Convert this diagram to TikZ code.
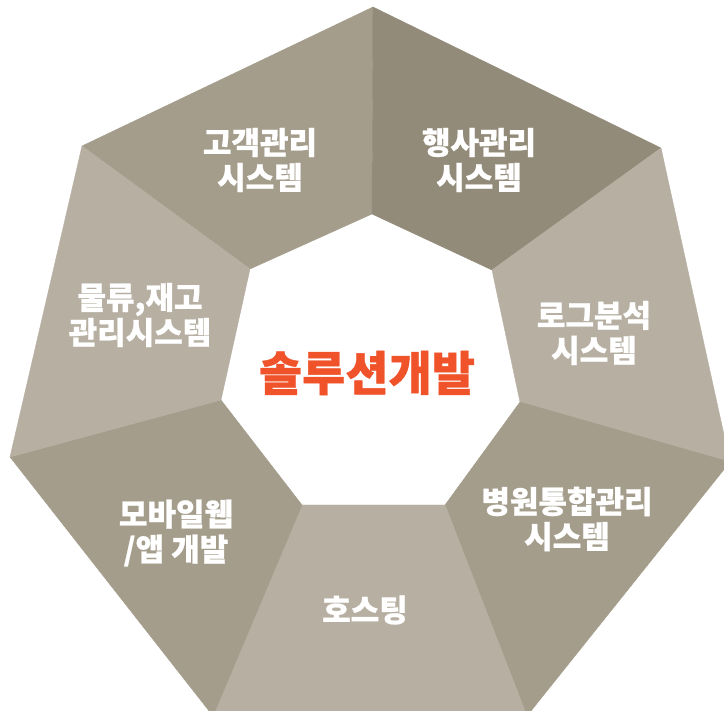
\documentclass[tikz,border=0pt]{standalone}
\usepackage{fontspec}
\newfontfamily\kr{Noto Sans CJK KR}[BoldFeatures={FakeBold=0.8}]
\definecolor{segDark}{HTML}{938B7A}
\definecolor{segMid}{HTML}{A49D8C}
\definecolor{segLight}{HTML}{B6AFA2}
\definecolor{titleOrange}{HTML}{F0532A}
\tikzset{
  seg/.style={fill=#1, draw=#1, line width=0.4pt, line join=round},
  label/.style={text=white, align=center, inner sep=0pt,
    font=\kr\bfseries\fontsize{31}{35}\selectfont},
  title/.style={text=titleOrange, inner sep=0pt,
    font=\kr\bfseries\fontsize{47}{52}\selectfont}
}
\begin{document}
\begin{tikzpicture}[x=1pt,y=-1pt]
\useasboundingbox (0,0) rectangle (724,711);
\clip (0,0) rectangle (724,711);
% outer vertices
\coordinate (oT)  at (373,7);
\coordinate (oUR) at (661,148);
\coordinate (oR)  at (730,462);
\coordinate (oBR) at (527,716);
\coordinate (oBL) at (213,716);
\coordinate (oL)  at (10,457);
\coordinate (oUL) at (82,146);
% inner vertices
\coordinate (iT)  at (372,214);
\coordinate (iUR) at (492,270);
\coordinate (iR)  at (520,402);
\coordinate (iBR) at (445,505);
\coordinate (iBL) at (302,505);
\coordinate (iL)  at (221,400);
\coordinate (iUL) at (250,269);
% segments
\path[seg=segMid]   (oUL) -- (oT) -- (iT) -- (iUL) -- cycle;
\path[seg=segDark]  (oT) -- (oUR) -- (iUR) -- (iT) -- cycle;
\path[seg=segLight] (oUR) -- (oR) -- (iR) -- (iUR) -- cycle;
\path[seg=segMid]   (oR) -- (oBR) -- (iBR) -- (iR) -- cycle;
\path[seg=segLight] (oBR) -- (oBL) -- (iBL) -- (iBR) -- cycle;
\path[seg=segMid]   (oBL) -- (oL) -- (iL) -- (iBL) -- cycle;
\path[seg=segLight] (oL) -- (oUL) -- (iUL) -- (iL) -- cycle;
% labels
\node[label] (customer) at (260,160) {고객관리\\시스템};
\node[label] (event)    at (479,160) {행사관리\\시스템};
\node[label] (logistics) at (140,315) {물류,재고\\관리시스템};
\node[label] (log)      at (594,333) {로그분석\\시스템};
\node[label] (hospital) at (567,519) {병원통합관리\\시스템};
\node[label] (hosting)  at (365,610) {호스팅};
\node[label] (mobile)   at (176,533) {모바일웹\\/앱 개발};
\node[title] (solution) at (367,373) {솔루션개발};
\end{tikzpicture}
\end{document}
